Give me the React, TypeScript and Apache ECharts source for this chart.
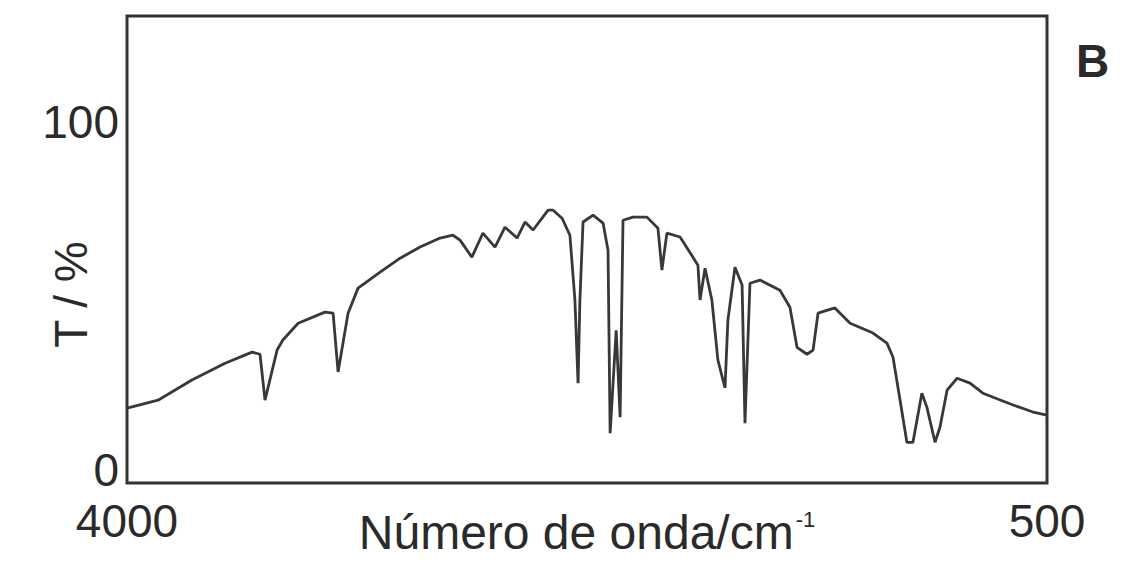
import React, { useEffect, useRef } from "react";
import * as echarts from "echarts";

// Wavenumber (cm^-1) and transmittance (%)
const wavenumbers = [
  4000, 3970, 3882, 3753, 3627, 3524, 3494, 3475, 3429, 3407, 3349, 3247, 3216, 3197, 3159,
  3121, 3037, 2961, 2885, 2809, 2760, 2733, 2688, 2646, 2600, 2562, 2516, 2486, 2455, 2398,
  2379, 2345, 2315, 2296, 2284, 2277, 2265, 2227, 2189, 2170, 2162, 2139, 2124, 2113, 2075,
  2022, 1980, 1965, 1946, 1896, 1847, 1828, 1820, 1801, 1775, 1752, 1725, 1714, 1687, 1660,
  1649, 1630, 1592, 1516, 1478, 1451, 1413, 1390, 1371, 1307, 1249, 1162, 1109, 1086, 1059,
  1033, 1010, 976, 957, 926, 907, 880, 842, 793, 744, 629, 553, 500,
];
const transmittance = [
  17.8, 18.4, 20.1, 25.9, 30.7, 33.9, 33.3, 20.1, 34.5, 37.4, 42.2, 45.4, 45.1, 28.2, 45.1,
  52.3, 56.9, 60.9, 64.1, 66.7, 67.5, 66.1, 61.2, 68.1, 64.1, 69.8, 66.7, 71.3, 69.0, 74.7,
  74.7, 72.4, 67.5, 48.9, 25.0, 48.9, 71.3, 73.3, 71.0, 63.2, 10.6, 40.2, 15.2, 71.8, 72.7,
  72.7, 69.5, 57.5, 68.1, 67.0, 61.2, 58.9, 48.9, 58.0, 48.9, 31.6, 23.6, 43.1, 58.3, 53.2,
  13.5, 53.7, 54.6, 51.7, 46.8, 35.3, 33.3, 34.5, 45.1, 46.6, 42.2, 39.4, 36.5, 32.5, 20.1,
  8.0, 8.0, 22.1, 18.1, 8.0, 12.4, 23.0, 26.4, 25.0, 22.1, 18.7, 16.7, 15.8,
];
const xTickLabels = [4000, 500];
const yTickLabels = [0, 100];
const xAxisTitle = "Número de onda/cm";
const xAxisTitleSup = "-1";
const yAxisTitle = "T / %";
const panelLabel = "B";

const FONT = "'Liberation Sans', Arial, sans-serif";
const TEXT_COLOR = "#2a2a2a";

export default function App() {
  const ref = useRef<HTMLDivElement>(null);

  useEffect(() => {
    if (!ref.current) return;
    const chart = echarts.init(ref.current, undefined, { renderer: "svg" });
    const data = wavenumbers.map((w, i) => [w, transmittance[i]]);
    chart.setOption({
      animation: false,
      backgroundColor: "#ffffff",
      grid: {
        left: 127,
        right: 85,
        top: 16,
        bottom: 80,
        containLabel: false,
        outerBoundsMode: "none",
        show: true,
        borderColor: "#333333",
        borderWidth: 3,
        backgroundColor: "transparent",
      },
      xAxis: {
        type: "value",
        min: 500,
        max: 4000,
        inverse: true,
        axisLine: { show: false },
        axisTick: { show: false },
        splitLine: { show: false },
        axisLabel: {
          customValues: xTickLabels,
          showMinLabel: true,
          showMaxLabel: true,
          formatter: (v: number) => String(v),
          margin: 15,
          fontSize: 46,
          fontFamily: FONT,
          color: TEXT_COLOR,
        },
        name: `{a|${xAxisTitle}}{b|${xAxisTitleSup}}`,
        nameLocation: "middle",
        nameGap: 25,
        nameMoveOverlap: false,
        nameTextStyle: {
          color: TEXT_COLOR,
          rich: {
            a: { fontSize: 48, fontFamily: FONT, color: TEXT_COLOR, verticalAlign: "top" },
            b: { fontSize: 22, fontFamily: FONT, color: TEXT_COLOR, verticalAlign: "top", padding: [0, 0, 0, 2] },
          },
        },
      },
      yAxis: {
        type: "value",
        min: -3.7,
        max: 130.5,
        axisLine: { show: false },
        axisTick: { show: false },
        splitLine: { show: false },
        axisLabel: {
          customValues: yTickLabels,
          formatter: (v: number) => String(v),
          margin: 8,
          fontSize: 46,
          fontFamily: FONT,
          color: TEXT_COLOR,
        },
        name: yAxisTitle,
        nameLocation: "middle",
        nameRotate: 90,
        nameGap: 33,
        nameMoveOverlap: false,
        nameTextStyle: {
          fontSize: 46,
          fontFamily: FONT,
          color: TEXT_COLOR,
          padding: [0, 90, 0, 0],
        },
      },
      graphic: [
        {
          type: "text",
          left: 1076,
          top: 38,
          style: {
            text: panelLabel,
            fontSize: 46,
            fontWeight: "bold",
            fontFamily: FONT,
            fill: TEXT_COLOR,
          },
        },
      ],
      series: [
        {
          type: "line",
          data,
          showSymbol: false,
          symbol: "none",
          lineStyle: { color: "#383838", width: 2.8 },
          smooth: false,
        },
      ],
    });
    return () => chart.dispose();
  }, []);

  return (
    <div
      ref={ref}
      style={{ position: "absolute", left: 0, top: 0, width: 1132, height: 563 }}
    />
  );
}
